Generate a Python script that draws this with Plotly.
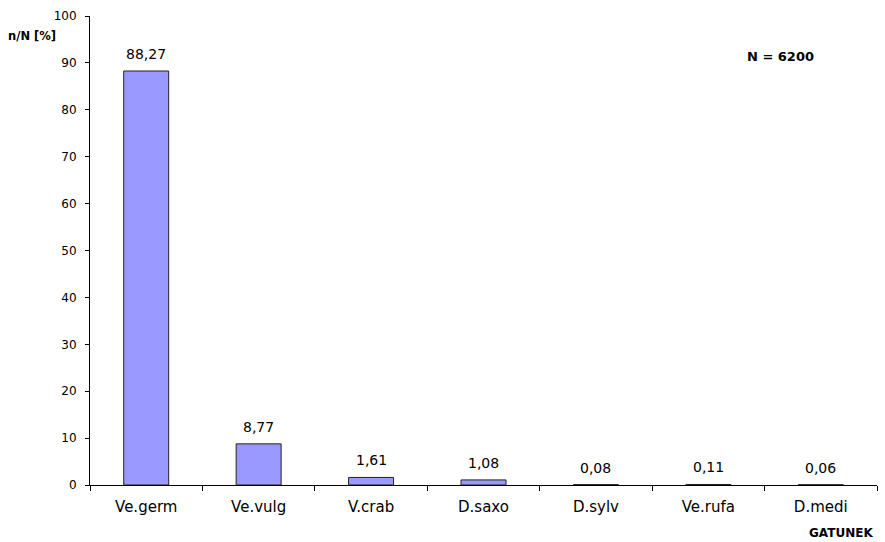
import plotly.graph_objects as go

categories = ["Ve.germ", "Ve.vulg", "V.crab", "D.saxo", "D.sylv", "Ve.rufa", "D.medi"]
values = [88.27, 8.77, 1.61, 1.08, 0.08, 0.11, 0.06]
labels = [f"{v:.2f}".replace(".", ",") for v in values]
y_ticks = [0, 10, 20, 30, 40, 50, 60, 70, 80, 90, 100]

font = "DejaVu Sans, Verdana, sans-serif"

fig = go.Figure()
fig.add_trace(go.Bar(
    x=categories, y=values,
    marker=dict(color="#9999FF", line=dict(color="#222222", width=1)),
    width=0.4,
    hoverinfo="skip",
))

for c, v, t in zip(categories, values, labels):
    fig.add_annotation(x=c, y=v, text=t, showarrow=False, yanchor="bottom",
                       yshift=7, font=dict(family=font, size=14, color="#000000"))

fig.add_annotation(xref="paper", yref="paper", x=-0.041, y=0.958, xanchor="right", yanchor="middle",
                   text="<b>n/N [%]</b>", showarrow=False,
                   font=dict(family=font, size=11.5, color="#000000"))
fig.add_annotation(xref="paper", yref="paper", x=0.998, y=-0.102, xanchor="right", yanchor="middle",
                   text="<b>GATUNEK</b>", showarrow=False,
                   font=dict(family=font, size=12, color="#000000"))
fig.add_annotation(xref="paper", yref="paper", x=0.877, y=0.913, xanchor="center", yanchor="middle",
                   text="<b>N = 6200</b>", showarrow=False,
                   font=dict(family=font, size=13, color="#000000"))

fig.update_layout(
    width=885, height=542,
    margin=dict(l=90, r=8, t=16, b=57),
    paper_bgcolor="white", plot_bgcolor="white",
    showlegend=False,
    font=dict(family=font, size=12, color="#000000"),
    xaxis=dict(
        showline=True, linecolor="#000000", linewidth=1,
        ticks="outside", ticklen=5, tickcolor="#000000",
        tickson="boundaries", showgrid=False,
        tickfont=dict(size=15), range=[-0.5, 6.5],
        ticklabelstandoff=8,
    ),
    yaxis=dict(
        range=[0, 100], tickvals=y_ticks, showline=True, linecolor="#000000", linewidth=1,
        ticks="outside", ticklen=4, tickcolor="#000000", showgrid=False, zeroline=False,
        tickfont=dict(size=12), ticklabelstandoff=6,
    ),
)

fig.write_html("out.html")
